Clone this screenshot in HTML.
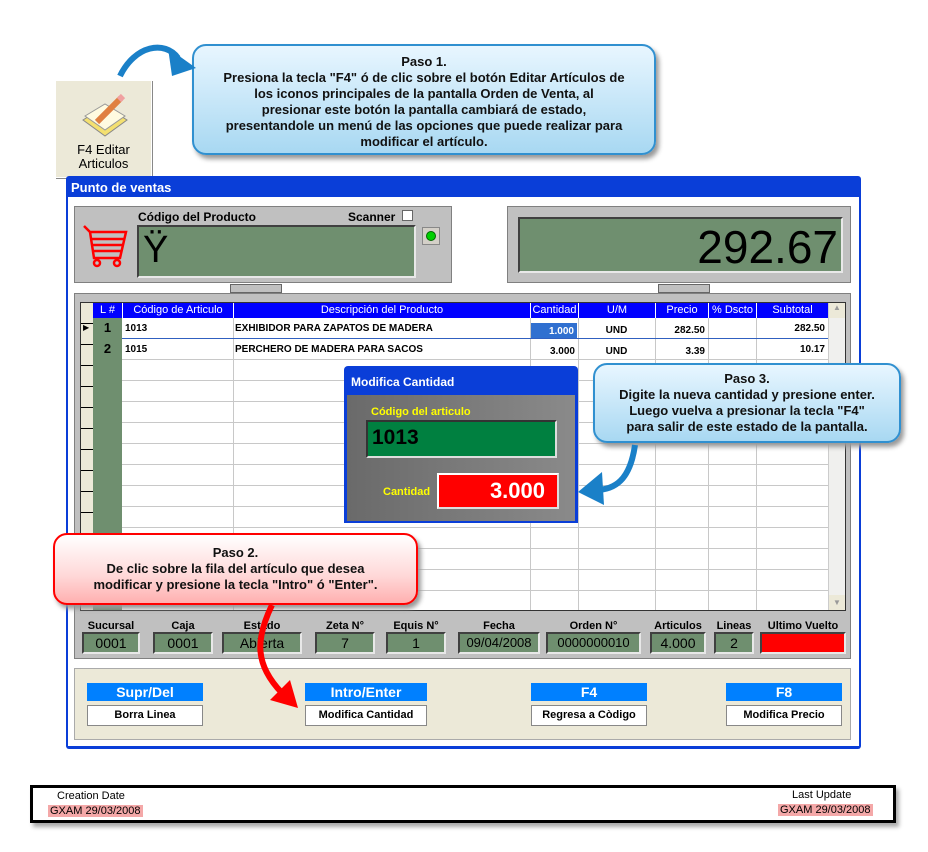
<!DOCTYPE html>
<html><head><meta charset="utf-8"><style>
*{margin:0;padding:0;box-sizing:border-box}
body{width:928px;height:852px;background:#fff;position:relative;overflow:hidden;font-family:"Liberation Sans",Arial,sans-serif}
.a{position:absolute}
.b{font-weight:bold}
.grn{background:#6f8f6f;border:2px solid;border-color:#404040 #e8e8e8 #e8e8e8 #404040}
.lab{font-size:11px;font-weight:bold;text-align:center;color:#000}
.fld{font-size:14px;text-align:center;line-height:18px}
.btnh{background:#0080ff;color:#fff;font-weight:bold;font-size:14px;text-align:center;line-height:18px}
.btnb{background:#fff;border:1px solid #888;box-shadow:1px 1px 0 #fff inset;font-size:11px;font-weight:bold;text-align:center;line-height:19px}
.call{border-radius:14px;font-weight:bold;font-size:13px;text-align:center;line-height:16px;color:#111}
</style></head><body>

<div class="a" style="left:55px;top:80px;width:97px;height:98px;background:#ece9d8;border:1px solid #fff;box-shadow:1px 1px 0 #888"></div>
<svg class="a" style="left:75px;top:92px" width="60" height="50"><polygon points="8,28 30,14 52,28 30,44" fill="#f4e070" stroke="#888"/><polygon points="10,24 30,12 50,24 30,38" fill="#fffbe0" stroke="#999"/><line x1="22" y1="30" x2="46" y2="6" stroke="#e08040" stroke-width="6"/><line x1="44" y1="8" x2="48" y2="4" stroke="#f0a0a0" stroke-width="6"/></svg>
<div class="a" style="left:55px;top:143px;width:97px;text-align:center;font-size:13px;line-height:14px">F4 Editar<br>Articulos</div>

<div class="a" style="left:66px;top:176px;width:795px;height:573px;background:#0a3ed8;border-radius:3px"></div>
<div class="a" style="left:68px;top:197px;width:791px;height:549px;background:#fff"></div>
<div class="a b" style="left:71px;top:180px;color:#fff;font-size:13px">Punto de ventas</div>

<div class="a" style="left:74px;top:206px;width:378px;height:77px;background:#c0c0c0;border:1px solid #808080"></div>
<div class="a lab" style="left:138px;top:210px;font-size:12px">Código del Producto</div>
<div class="a lab" style="left:348px;top:210px;font-size:12px">Scanner</div>
<div class="a" style="left:402px;top:210px;width:11px;height:11px;background:#fff;border:1px solid #666"></div>
<div class="a grn" style="left:137px;top:225px;width:279px;height:53px"></div>
<div class="a" style="left:143px;top:228px;font-size:38px;line-height:44px">Ÿ</div>
<div class="a" style="left:422px;top:227px;width:18px;height:18px;background:#d4d0c8;border:1px solid #888"></div>
<div class="a" style="left:426px;top:231px;width:10px;height:10px;background:#00d000;border-radius:50%;border:1px solid #060"></div>
<svg class="a" style="left:82px;top:224px" width="46" height="44"><g stroke="#f00" stroke-width="2.5" fill="none"><path d="M2,2 L8,8 L44,8 L38,34 L12,34 L8,8"/><line x1="10" y1="15" x2="42" y2="15"/><line x1="11" y1="21" x2="41" y2="21"/><line x1="12" y1="27" x2="40" y2="27"/><circle cx="15" cy="39" r="3"/><circle cx="35" cy="39" r="3"/></g></svg>
<div class="a" style="left:507px;top:206px;width:344px;height:77px;background:#c0c0c0;border:1px solid #808080"></div>
<div class="a grn" style="left:518px;top:217px;width:325px;height:56px"></div>
<div class="a" style="left:600px;top:220px;width:238px;text-align:right;font-size:46px;line-height:54px">292.67</div>
<div class="a" style="left:230px;top:284px;width:52px;height:9px;background:#c0c0c0;border:1px solid #666"></div>
<div class="a" style="left:658px;top:284px;width:52px;height:9px;background:#c0c0c0;border:1px solid #666"></div>

<div class="a" style="left:74px;top:293px;width:777px;height:366px;background:#c0c0c0;border:1px solid #808080"></div>
<div class="a" style="left:80px;top:302px;width:766px;height:309px;background:#fff;border:1px solid #333"></div>
<div class="a" style="left:81px;top:303px;width:12px;height:307px;background:repeating-linear-gradient(#ece9d8 0 20px,#000 20px 21px)"></div>
<div class="a" style="left:93px;top:318px;width:29px;height:292px;background:#6f8f6f"></div>
<div class="a" style="left:122px;top:318px;width:706px;height:292px;background:repeating-linear-gradient(#fff 0 20px,#c8c8c8 20px 21px)"></div>
<svg class="a" style="left:0;top:0" width="928" height="852"><g stroke="#c8c8c8"><line x1="233.5" y1="318" x2="233.5" y2="610"/><line x1="530.5" y1="318" x2="530.5" y2="610"/><line x1="578.5" y1="318" x2="578.5" y2="610"/><line x1="655.5" y1="318" x2="655.5" y2="610"/><line x1="708.5" y1="318" x2="708.5" y2="610"/><line x1="756.5" y1="318" x2="756.5" y2="610"/></g></svg>
<div class="a" style="left:828px;top:303px;width:17px;height:307px;background:#f0f0ee;border-left:1px solid #ccc"></div>
<div class="a" style="left:829px;top:303px;width:16px;height:15px;background:#ece9d8;font-size:8px;color:#999;text-align:center">▲</div>
<div class="a" style="left:829px;top:595px;width:16px;height:15px;background:#ece9d8;font-size:8px;color:#999;text-align:center;line-height:15px">▼</div>
<div class="a" style="left:93px;top:303px;width:735px;height:15px;background:#0000ff;color:#fff;font-size:11px;line-height:15px">
<span class="a" style="left:0;width:29px;text-align:center">L #</span>
<span class="a" style="left:29px;width:111px;text-align:center;border-left:1px solid #fff">Código de Articulo</span>
<span class="a" style="left:140px;width:297px;text-align:center;border-left:1px solid #fff">Descripción del Producto</span>
<span class="a" style="left:437px;width:48px;text-align:center;border-left:1px solid #fff">Cantidad</span>
<span class="a" style="left:485px;width:77px;text-align:center;border-left:1px solid #fff">U/M</span>
<span class="a" style="left:562px;width:53px;text-align:center;border-left:1px solid #fff">Precio</span>
<span class="a" style="left:615px;width:48px;text-align:center;border-left:1px solid #fff">% Dscto</span>
<span class="a" style="left:663px;width:72px;text-align:center;border-left:1px solid #fff">Subtotal</span></div>
<div class="a" style="left:83px;top:323px;font-size:8px">▶</div>
<div class="a b" style="left:93px;top:320px;width:29px;text-align:center;font-size:13px">1</div>
<div class="a b" style="left:93px;top:341px;width:29px;text-align:center;font-size:13px">2</div>
<div class="a" style="left:122px;top:338px;width:706px;height:1px;background:#3060c0"></div>
<div class="a b" style="left:125px;top:323px;font-size:10px">1013</div>
<div class="a b" style="left:125px;top:344px;font-size:10px">1015</div>
<div class="a b" style="left:235px;top:323px;font-size:10px">EXHIBIDOR PARA ZAPATOS DE MADERA</div>
<div class="a b" style="left:235px;top:344px;font-size:10px">PERCHERO DE MADERA PARA SACOS</div>
<div class="a b" style="left:531px;top:323px;width:46px;height:15px;background:#3070d0;color:#fff;font-size:10px;text-align:right;padding-right:3px;line-height:17px">1.000</div>
<div class="a b" style="left:531px;top:346px;width:44px;font-size:10px;text-align:right">3.000</div>
<div class="a b" style="left:578px;top:325px;width:77px;font-size:10px;text-align:center">UND</div>
<div class="a b" style="left:578px;top:346px;width:77px;font-size:10px;text-align:center">UND</div>
<div class="a b" style="left:655px;top:325px;width:50px;font-size:10px;text-align:right">282.50</div>
<div class="a b" style="left:655px;top:346px;width:50px;font-size:10px;text-align:right">3.39</div>
<div class="a b" style="left:756px;top:323px;width:69px;font-size:10px;text-align:right">282.50</div>
<div class="a b" style="left:756px;top:344px;width:69px;font-size:10px;text-align:right">10.17</div>

<div class="a lab" style="left:82px;top:620px;width:58px">Sucursal</div>
<div class="a grn fld" style="left:82px;top:632px;width:58px;height:22px">0001</div>
<div class="a lab" style="left:153px;top:620px;width:60px">Caja</div>
<div class="a grn fld" style="left:153px;top:632px;width:60px;height:22px">0001</div>
<div class="a lab" style="left:222px;top:620px;width:80px">Estado</div>
<div class="a grn fld" style="left:222px;top:632px;width:80px;height:22px">Abierta</div>
<div class="a lab" style="left:315px;top:620px;width:60px">Zeta N°</div>
<div class="a grn fld" style="left:315px;top:632px;width:60px;height:22px">7</div>
<div class="a lab" style="left:386px;top:620px;width:60px">Equis N°</div>
<div class="a grn fld" style="left:386px;top:632px;width:60px;height:22px">1</div>
<div class="a lab" style="left:458px;top:620px;width:82px">Fecha</div>
<div class="a grn fld" style="left:458px;top:632px;width:82px;height:22px;font-size:13px">09/04/2008</div>
<div class="a lab" style="left:546px;top:620px;width:95px">Orden N°</div>
<div class="a grn fld" style="left:546px;top:632px;width:95px;height:22px;font-size:13px">0000000010</div>
<div class="a lab" style="left:650px;top:620px;width:56px">Articulos</div>
<div class="a grn fld" style="left:650px;top:632px;width:56px;height:22px">4.000</div>
<div class="a lab" style="left:714px;top:620px;width:40px">Lineas</div>
<div class="a grn fld" style="left:714px;top:632px;width:40px;height:22px">2</div>
<div class="a lab" style="left:760px;top:620px;width:86px">Ultimo Vuelto</div>
<div class="a" style="left:760px;top:632px;width:86px;height:22px;background:#f00;border:2px solid;border-color:#404040 #e8e8e8 #e8e8e8 #404040"></div>

<div class="a" style="left:74px;top:668px;width:777px;height:72px;background:#ece9d8;border:1px solid #aaa"></div>
<div class="a btnh" style="left:87px;top:683px;width:116px">Supr/Del</div>
<div class="a btnb" style="left:87px;top:705px;width:116px;height:21px">Borra Linea</div>
<div class="a btnh" style="left:305px;top:683px;width:122px">Intro/Enter</div>
<div class="a btnb" style="left:305px;top:705px;width:122px;height:21px">Modifica Cantidad</div>
<div class="a btnh" style="left:531px;top:683px;width:116px">F4</div>
<div class="a btnb" style="left:531px;top:705px;width:116px;height:21px">Regresa a Còdigo</div>
<div class="a btnh" style="left:726px;top:683px;width:116px">F8</div>
<div class="a btnb" style="left:726px;top:705px;width:116px;height:21px">Modifica Precio</div>

<div class="a" style="left:344px;top:366px;width:234px;height:157px;background:#0a3ed8;border-radius:4px 4px 0 0"></div>
<div class="a b" style="left:351px;top:375px;color:#fff;font-size:12px">Modifica Cantidad</div>
<div class="a" style="left:347px;top:395px;width:228px;height:126px;background:linear-gradient(90deg,#6a6a6a,#8a8a8a)"></div>
<div class="a b" style="left:371px;top:406px;color:#ff0;font-size:11px">Código del articulo</div>
<div class="a" style="left:366px;top:420px;width:191px;height:38px;background:#008040;border:2px solid;border-color:#333 #ddd #ddd #333"></div>
<div class="a b" style="left:372px;top:426px;font-size:21px">1013</div>
<div class="a b" style="left:383px;top:486px;color:#ff0;font-size:11px">Cantidad</div>
<div class="a" style="left:437px;top:473px;width:122px;height:36px;background:#f00;border:2px solid;border-color:#fff #ddd #ddd #fff"></div>
<div class="a b" style="left:440px;top:478px;width:105px;text-align:right;color:#fff;font-size:22px">3.000</div>

<div class="a call" style="left:192px;top:44px;width:464px;height:111px;background:linear-gradient(#e8f6ff,#a8d8f2);border:2px solid #3090d0;box-shadow:3px 4px 5px #999;padding-top:8px">Paso 1.<br>Presiona la tecla "F4" ó de clic sobre el botón Editar Artículos de<br>los iconos principales de la pantalla Orden de Venta, al<br>presionar este botón la pantalla cambiará de estado,<br>presentandole un menú de las opciones que puede realizar para<br>modificar el artículo.</div>
<div class="a call" style="left:593px;top:363px;width:308px;height:80px;background:linear-gradient(#e8f6ff,#a8d8f2);border:2px solid #3090d0;box-shadow:3px 4px 5px #999;padding-top:6px">Paso 3.<br>Digite la nueva cantidad y presione enter.<br>Luego vuelva a presionar la tecla "F4"<br>para salir de este estado de la pantalla.</div>
<div class="a call" style="left:53px;top:533px;width:365px;height:72px;background:linear-gradient(#fff,#ffd8d8 60%,#ffb0b0);border:2px solid #f00;box-shadow:3px 4px 5px #999;padding-top:10px">Paso 2.<br>De clic sobre la fila del artículo que desea<br>modificar y presione la tecla "Intro" ó "Enter".</div>

<svg class="a" style="left:0;top:0" width="928" height="852">
<path d="M120,76 C135,45 165,40 178,58" stroke="#1a80c8" stroke-width="6" fill="none"/>
<polygon points="168,48 196,68 172,76" fill="#1a80c8"/>
<path d="M635,445 C630,480 615,490 595,490" stroke="#1a80c8" stroke-width="6" fill="none"/>
<polygon points="578,492 602,472 604,505" fill="#1a80c8"/>
<path d="M272,605 C255,640 255,665 282,693" stroke="#f00" stroke-width="6" fill="none"/>
<polygon points="298,708 270,700 290,680" fill="#f00"/>
</svg>

<div class="a" style="left:30px;top:785px;width:866px;height:38px;border:3px solid #000;box-shadow:3px 4px 4px #aaa"></div>
<div class="a" style="left:57px;top:790px;font-size:11px">Creation Date</div>
<div class="a" style="left:48px;top:805px;font-size:11px;background:#f4a8a8;padding:0 2px">GXAM 29/03/2008</div>
<div class="a" style="left:792px;top:789px;font-size:11px">Last Update</div>
<div class="a" style="left:778px;top:804px;font-size:11px;background:#f4a8a8;padding:0 2px">GXAM 29/03/2008</div>
</body></html>
